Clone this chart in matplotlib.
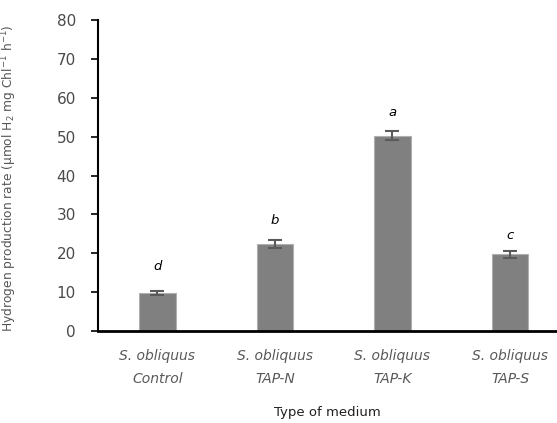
import numpy as np
import matplotlib.pyplot as plt

# hydrogen production per medium
media = ['S. obliquus\nControl', 'S. obliquus\nTAP-N', 'S. obliquus\nTAP-K', 'S. obliquus\nTAP-S']
rates = [9.7, 22.4, 50.2, 19.7]
errors = [0.55, 0.95, 1.15, 1.0]
letters = ['d', 'b', 'a', 'c']
letter_y = [16.5, 28.3, 56.3, 24.6]

plt.rcParams['font.family'] = ['DejaVu Sans']

fig = plt.figure(figsize=(5.57, 4.23), dpi=100)
ax = fig.add_axes([0.176, 0.2175, 0.824, 0.7352])

x = np.arange(len(media))
ax.bar(x, rates, width=0.31, color='#808080', edgecolor='#b0b0b0', linewidth=0.8, zorder=2)
ax.errorbar(x, rates, yerr=errors, fmt='none', ecolor='#5a5a5a', elinewidth=1.5,
            capsize=5, capthick=1.5, zorder=3)

for xi, ly, lt in zip(x, letter_y, letters):
    ax.text(xi, ly, lt, ha='center', va='center', fontsize=9.5, style='italic', color='black')

ax.set_xlim(-0.505, 3.4)
ax.set_ylim(0, 80)
ax.set_yticks(np.arange(0, 81, 10))
ax.set_xticks(x)
ax.set_xticklabels(media, fontsize=10, style='italic', color='#595959', linespacing=1.85)

ax.spines['top'].set_visible(False)
ax.spines['right'].set_visible(False)
ax.spines['left'].set_linewidth(1.5)
ax.spines['bottom'].set_linewidth(2)

ax.tick_params(axis='y', direction='out', length=5, width=1.2, labelsize=11,
               labelcolor='#4a4a4a', pad=11)
ax.tick_params(axis='x', length=0, pad=13)

ax.set_ylabel('Hydrogen production rate (μmol H$_2$ mg Chl$^{-1}$ h$^{-1}$)',
              fontsize=8.8, color='#555555')
ax.yaxis.set_label_coords(-0.172, 0.49)
ax.set_xlabel('Type of medium', fontsize=9.5, color='#202020', labelpad=14)

fig.savefig('out.png', dpi=100)
